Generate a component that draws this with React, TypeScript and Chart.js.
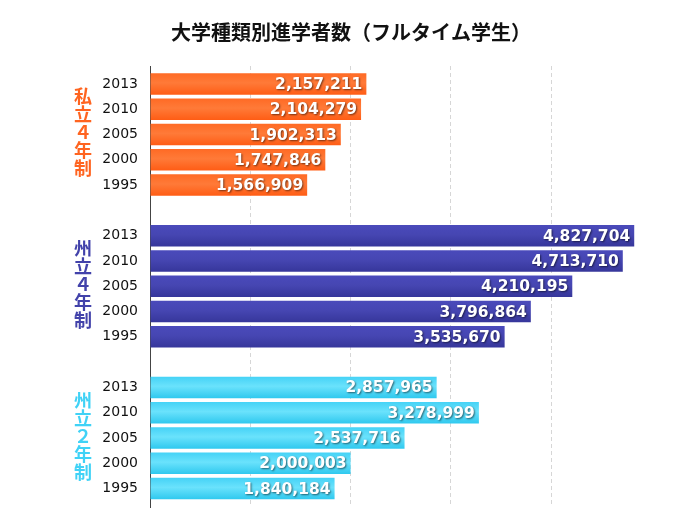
import React, { useEffect, useRef } from "react";
import { Chart, registerables } from "chart.js";

Chart.register(...registerables);

const title = "大学種類別進学者数（フルタイム学生）";
const years = ["2013", "2010", "2005", "2000", "1995"];
const groupNames = ["私立４年制", "州立４年制", "州立２年制"];
const private4 = [2157211, 2104279, 1902313, 1747846, 1566909];
const public4 = [4827704, 4713710, 4210195, 3796864, 3535670];
const public2 = [2857965, 3278999, 2537716, 2000003, 1840184];
const xTicks = [0, 1000000, 2000000, 3000000, 4000000, 5000000];

const groupColors = ["#ff6420", "#4242aa", "#40d2f6"];
const gradStops = [
  ["#ff6a24", "#ff7a38", "#ff5c14"],
  ["#4a4abb", "#4646b2", "#36369a"],
  ["#44d2f6", "#6ae2fc", "#2ec8ee"],
];

const seriesList = [private4, public4, public2];
const groupStart = [0, 6, 12];

const rowLabels: Record<number, string> = {};
groupStart.forEach((s) => years.forEach((y, i) => (rowLabels[s + i] = y)));

export default function App() {
  const ref = useRef<HTMLCanvasElement>(null);
  useEffect(() => {
    const canvas = ref.current!;
    const labelPlugin = {
      id: "labels",
      afterDatasetsDraw(chart: any) {
        const ctx = chart.ctx;
        ctx.save();
        chart.data.datasets.forEach((ds: any, di: number) => {
          const meta = chart.getDatasetMeta(di);
          meta.data.forEach((el: any, i: number) => {
            const v = ds.data[i].x;
            ctx.font = "bold 15.5px 'DejaVu Sans'";
            ctx.textAlign = "right";
            ctx.textBaseline = "middle";
            ctx.fillStyle = "#ffffff";
            ctx.shadowColor = "rgba(0,0,0,0.55)";
            ctx.shadowBlur = 2;
            ctx.shadowOffsetX = 1;
            ctx.shadowOffsetY = 1;
            ctx.fillText(v.toLocaleString("en-US"), el.x - 4, el.y + 1);
          });
        });
        ctx.restore();
        ctx.save();
        const ys = chart.scales.y;
        groupNames.forEach((name, gi) => {
          const cy = ys.getPixelForValue(groupStart[gi] + 2) - 2;
          const chars = Array.from(name);
          const lh = 18;
          ctx.font = "bold 18px 'Noto Sans CJK JP'";
          ctx.fillStyle = groupColors[gi];
          ctx.textAlign = "center";
          ctx.textBaseline = "middle";
          chars.forEach((ch, k) => {
            ctx.fillText(ch, 75, cy + (k - (chars.length - 1) / 2) * lh);
          });
        });
        ctx.font = "bold 20px 'Noto Sans CJK JP'";
        ctx.fillStyle = "#111";
        ctx.textAlign = "center";
        ctx.textBaseline = "middle";
        ctx.fillText(title, 343, 24);
        ctx.restore();
      },
    };

    const datasets = seriesList.map((vals, gi) => ({
      data: vals.map((v, i) => ({ x: v, y: groupStart[gi] + i })),
      grouped: false,
      categoryPercentage: 1,
      barPercentage: 0.85,
      backgroundColor: (c: any) => {
        const ys = c.chart.scales && c.chart.scales.y;
        if (!ys || !c.raw) return groupColors[gi];
        const py = ys.getPixelForValue(c.raw.y);
        if (!isFinite(py)) return groupColors[gi];
        const g = c.chart.ctx.createLinearGradient(0, py - 11, 0, py + 11);
        g.addColorStop(0, gradStops[gi][0]);
        g.addColorStop(0.45, gradStops[gi][1]);
        g.addColorStop(1, gradStops[gi][2]);
        return g;
      },
    }));

    const chart = new Chart(canvas, {
      type: "bar",
      data: { datasets },
      plugins: [labelPlugin],
      options: {
        indexAxis: "y",
        animation: false,
        responsive: false,
        layout: { padding: { top: 58, right: 20.5, bottom: 5, left: 0 } },
        plugins: { legend: { display: false }, tooltip: { enabled: false }, title: { display: false } },
        scales: {
          x: {
            type: "linear",
            min: 0,
            max: 5000000,
            afterBuildTicks: (s: any) => {
              s.ticks = xTicks.map((v) => ({ value: v }));
            },
            afterFit: (s: any) => {
              s.height = 0;
              s.paddingLeft = 0;
              s.paddingRight = 0;
            },
            ticks: { display: false },
            grid: {
              drawTicks: false,
              color: (c: any) =>
                c.tick && (c.tick.value === 0 || c.tick.value === 5000000) ? "rgba(0,0,0,0)" : "#d6d6d6",
              lineWidth: 1,
            },
            border: { display: false, dash: [4, 3] },
          },
          y: {
            type: "linear",
            reverse: true,
            offset: false,
            min: -0.71,
            max: 16.73,
            afterBuildTicks: (s: any) => {
              s.ticks = Object.keys(rowLabels).map((k) => ({ value: Number(k) }));
            },
            afterFit: (s: any) => {
              s.width = 142;
              s.paddingTop = 0;
              s.paddingBottom = 0;
            },
            grid: { display: false, drawTicks: false },
            border: { display: true, color: "#444", width: 1 },
            ticks: {
              autoSkip: false,
              padding: 12,
              color: "#111",
              font: { family: "'DejaVu Sans'", size: 14 },
              callback: (v: any) => rowLabels[v] ?? "",
            },
          },
        },
      },
    });
    return () => chart.destroy();
  }, []);
  return (
    <div style={{ width: 664, height: 504 }}>
      <canvas ref={ref} width={664} height={504} style={{ width: 664, height: 504, display: "block" }} />
    </div>
  );
}
